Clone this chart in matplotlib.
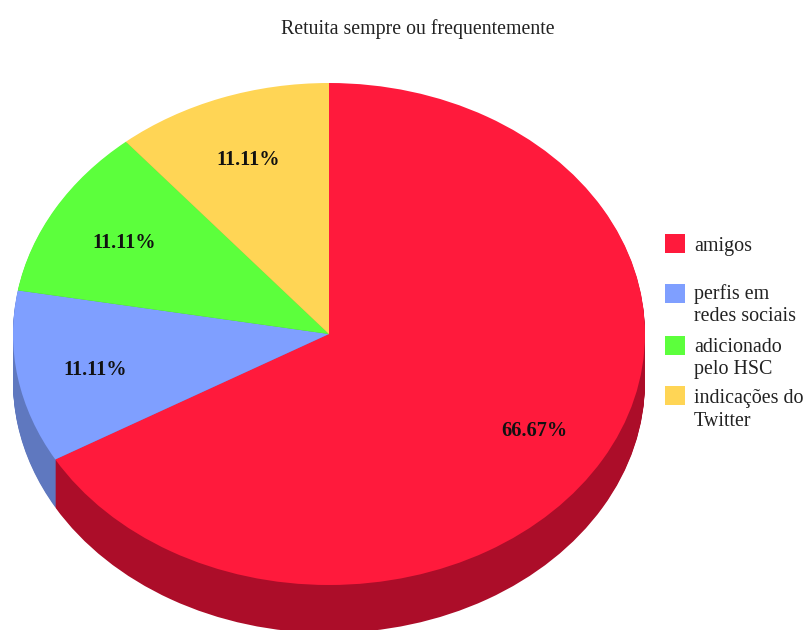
import matplotlib
matplotlib.use("Agg")
import matplotlib.pyplot as plt
from matplotlib.patches import Rectangle
from matplotlib.transforms import ScaledTranslation

# Survey shares and labels
title = "Retuita sempre ou frequentemente"
categories = ["amigos", "perfis em\nredes sociais", "adicionado\npelo HSC", "indicações do\nTwitter"]
values = [66.67, 11.11, 11.11, 11.11]
top_colors = ["#FF1A3C", "#7F9FFF", "#5CFF3C", "#FFD555"]
side_colors = ["#AC0D29", "#5F78BF", "#45BF2D", "#BFA040"]

W, H = 806, 630
CX, CY, RX, RY, DEPTH = 329, 334, 316, 251, 48

plt.rcParams["font.family"] = ["Liberation Serif", "DejaVu Serif"]
fig = plt.figure(figsize=(W / 100, H / 100), dpi=100)

# Pie axes stretched so one data unit is RX pixels across and RY pixels down
ax = fig.add_axes([(CX - RX) / W, 1 - (CY + RY) / H, 2 * RX / W, 2 * RY / H])
ax.set_facecolor("none")
step = 1 / RY
for d in range(DEPTH, 0, -1):
    ax.pie(values, colors=side_colors, startangle=90, counterclock=False,
           radius=1, center=(0, -d * step),
           wedgeprops=dict(linewidth=0.6, edgecolor="none"))
wedges, _, pcts = ax.pie(values, colors=top_colors, startangle=90, counterclock=False,
                         radius=1, center=(0, 0), autopct="%.2f%%", pctdistance=0.75,
                         wedgeprops=dict(linewidth=0),
                         textprops=dict(fontsize=14.6, fontweight="bold", color="#111111"))
ax.set_aspect("auto")
ax.set_xlim(-1, 1)
ax.set_ylim(-1, 1)
ax.set_clip_on(False)
for artist in ax.patches:
    artist.set_clip_on(False)

# Nudge the percentage labels slightly below their wedge anchor
for label in pcts:
    label.set_transform(ax.transData + ScaledTranslation(0, -3 / 100, fig.dpi_scale_trans))

# Page-level overlay in pixel coordinates for title and legend
ov = fig.add_axes([0, 0, 1, 1])
ov.set_xlim(0, W)
ov.set_ylim(H, 0)
ov.axis("off")
ov.patch.set_alpha(0)
ov.text(418, 29, title, ha="center", va="center", fontsize=14.3, color="#222222")

legend_y = [243, 293, 345.5, 395.5]
text_y = [246, 305, 358.5, 410]
for name, color, ky, ty in zip(categories, top_colors, legend_y, text_y):
    ov.add_patch(Rectangle((665, ky - 9.5), 20, 19, facecolor=color, edgecolor="none"))
    ov.text(694, ty, name, ha="left", va="center", fontsize=14.4, color="#222222", linespacing=1.26)

fig.savefig("out.png", dpi=100, facecolor="white")
